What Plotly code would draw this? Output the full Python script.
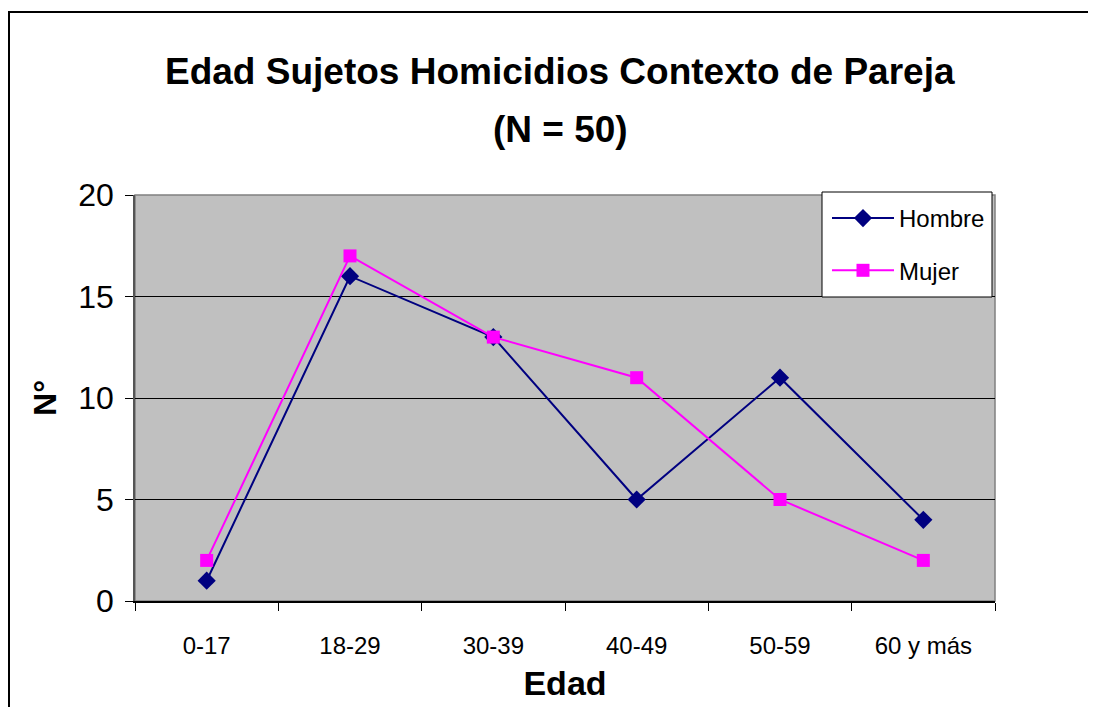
import plotly.graph_objects as go

# data
edades = ["0-17", "18-29", "30-39", "40-49", "50-59", "60 y más"]
hombre = [1, 16, 13, 5, 11, 4]
mujer = [2, 17, 13, 11, 5, 2]

FONT = "Liberation Sans, Arial"

# plot area in figure pixels (page has 8px body margin)
L, T, W, H = 127, 187, 860, 406


def px_x(v):
    return (v - L) / W


def px_y(v):
    return (T + H - v) / H


fig = go.Figure()
fig.add_trace(go.Scatter(
    x=edades, y=hombre, name="Hombre", mode="lines+markers", legendgroup="h",
    line=dict(color="#000080", width=2),
    marker=dict(symbol="diamond", size=14, color="#000080"),
))
fig.add_trace(go.Scatter(
    x=edades, y=mujer, name="Mujer", mode="lines+markers", legendgroup="m",
    line=dict(color="#FF00FF", width=2),
    marker=dict(symbol="square", size=13, color="#FF00FF"),
))

fig.update_layout(
    width=1096, height=707,
    paper_bgcolor="white",
    plot_bgcolor="#C0C0C0",
    margin=dict(l=L, r=1096 - L - W, t=T, b=707 - T - H),
    font=dict(family=FONT, color="black"),
    showlegend=True,
    legend=dict(
        x=px_x(819), xanchor="left", y=px_y(188), yanchor="top",
        bgcolor="rgba(0,0,0,0)", borderwidth=0,
        font=dict(family=FONT, size=24),
        itemwidth=62, tracegroupgap=18,
    ),
)

title_font = dict(family=FONT, size=37, color="black", weight="bold")
fig.add_annotation(text="Edad Sujetos Homicidios Contexto de Pareja",
                   xref="paper", yref="paper", x=px_x(552), y=px_y(64),
                   showarrow=False, xanchor="center", yanchor="middle", font=title_font)
fig.add_annotation(text="(N = 50)",
                   xref="paper", yref="paper", x=px_x(552), y=px_y(122),
                   showarrow=False, xanchor="center", yanchor="middle", font=title_font)

fig.update_xaxes(
    type="category", range=[-0.5, 5.5],
    tickson="boundaries", ticks="outside", ticklen=8, tickcolor="black",
    showline=True, linecolor="black", linewidth=1.5,
    showgrid=False,
    ticklabelstandoff=22,
    tickfont=dict(family=FONT, size=24),
    title=dict(text="Edad", standoff=14,
               font=dict(family=FONT, size=34, weight="bold")),
)
fig.update_yaxes(
    range=[0, 20], tickvals=[0, 5, 10, 15, 20],
    ticks="outside", ticklen=8, tickcolor="black",
    showline=True, linecolor="#555555", linewidth=1.5,
    showgrid=True, gridcolor="black", gridwidth=1,
    zeroline=False,
    ticklabelstandoff=5,
    tickfont=dict(family=FONT, size=32),
    title=dict(text="N°", standoff=12,
               font=dict(family=FONT, size=32, weight="bold")),
)

# plot area border, legend box and outer chart frame
fig.add_shape(type="rect", xref="paper", yref="paper", x0=0, x1=1, y0=0, y1=1,
              line=dict(color="#808080", width=1.5), layer="below")
fig.add_shape(type="rect", xref="paper", yref="paper",
              x0=px_x(814), x1=px_x(984), y0=px_y(289), y1=px_y(184),
              fillcolor="white", line=dict(color="black", width=1), layer="above")
fig.add_shape(type="rect", xref="paper", yref="paper",
              x0=px_x(1), x1=px_x(1120), y0=px_y(740), y1=px_y(4),
              line=dict(color="black", width=2))

fig.write_html("out.html")
